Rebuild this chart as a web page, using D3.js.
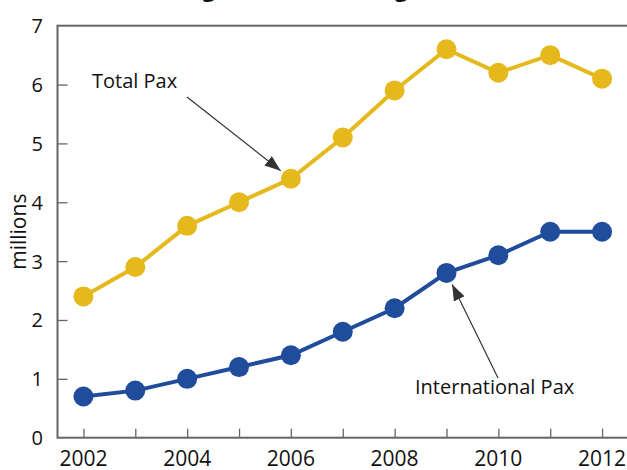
<!DOCTYPE html>
<html>
<head>
<meta charset="utf-8">
<script src="https://cdn.jsdelivr.net/npm/d3@7/dist/d3.min.js"></script>
<style>
  html, body { margin: 0; padding: 0; background: #fff; }
  svg { display: block; font-family: "Open Sans", "Noto Sans", sans-serif; }
</style>
</head>
<body>
<svg id="chart" width="627" height="470"></svg>
<script>
// Passenger numbers, millions
const years = [2002, 2003, 2004, 2005, 2006, 2007, 2008, 2009, 2010, 2011, 2012];
const totalPax = [2.4, 2.9, 3.6, 4.0, 4.4, 5.1, 5.9, 6.6, 6.2, 6.5, 6.1];
const intlPax = [0.7, 0.8, 1.0, 1.2, 1.4, 1.8, 2.2, 2.8, 3.1, 3.5, 3.5];
const yTicks = [0, 1, 2, 3, 4, 5, 6, 7];
const xTickLabels = [2002, 2004, 2006, 2008, 2010, 2012];

const svg = d3.select("#chart");
const margin = { left: 57.5, right: -1, top: 25.7, bottom: 32.3 };
const W = 627, H = 470;

const x = d3.scaleLinear()
  .domain([2001.5, 2012.5])
  .range([margin.left, W - margin.right]);
const y = d3.scaleLinear()
  .domain([0, 7])
  .range([H - margin.bottom, margin.top]);

const axisColor = "#666";
const textColor = "#111";

// Title (sits mostly above the page edge)
svg.append("text")
  .attr("x", 126).attr("y", -3)
  .attr("font-size", 22).attr("font-weight", "bold")
  .attr("fill", textColor)
  .text("Passenger numbers and growth");

// Plot frame
svg.append("rect")
  .attr("x", x.range()[0]).attr("y", y.range()[1])
  .attr("width", x.range()[1] - x.range()[0])
  .attr("height", y.range()[0] - y.range()[1])
  .attr("fill", "none").attr("stroke", axisColor).attr("stroke-width", 2);

// Y axis: inward ticks
const yAxis = svg.append("g")
  .attr("transform", `translate(${x.range()[0]},0)`)
  .call(d3.axisRight(y).tickValues(yTicks).tickSize(10).tickFormat(""));
yAxis.select(".domain").remove();
yAxis.selectAll("line").attr("stroke", axisColor).attr("stroke-width", 1.3);
yAxis.selectAll(".tick").filter(d => d === 0 || d === 7).select("line").remove();

svg.append("g").selectAll("text")
  .data(yTicks).join("text")
  .attr("x", 43).attr("y", d => y(d))
  .attr("text-anchor", "end").attr("dominant-baseline", "central")
  .attr("font-size", 20).attr("fill", textColor)
  .text(d => d);

// X axis: inward ticks at every year
const xAxis = svg.append("g")
  .attr("transform", `translate(0,${y.range()[0]})`)
  .call(d3.axisTop(x).tickValues(years).tickSize(9).tickFormat(""));
xAxis.select(".domain").remove();
xAxis.selectAll("line").attr("stroke", axisColor).attr("stroke-width", 1.3);

svg.append("g").selectAll("text")
  .data(xTickLabels).join("text")
  .attr("x", d => x(d)).attr("y", 466)
  .attr("text-anchor", "middle")
  .attr("font-size", 21).attr("fill", textColor)
  .text(d => d);

// Y axis title
svg.append("text")
  .attr("transform", `translate(18,${(y.range()[0] + y.range()[1]) / 2}) rotate(-90)`)
  .attr("text-anchor", "middle").attr("dominant-baseline", "central")
  .attr("font-size", 21).attr("fill", textColor)
  .text("millions");

// Series
const series = [
  { name: "Total Pax", values: totalPax, color: "#E5B81C" },
  { name: "International Pax", values: intlPax, color: "#1F4C9B" }
];

const line = d3.line().x((d, i) => x(years[i])).y(d => y(d));

series.forEach(s => {
  const g = svg.append("g");
  g.append("path")
    .datum(s.values)
    .attr("d", line)
    .attr("fill", "none").attr("stroke", s.color).attr("stroke-width", 4);
  g.selectAll("circle")
    .data(s.values).join("circle")
    .attr("cx", (d, i) => x(years[i]))
    .attr("cy", d => y(d))
    .attr("r", 10)
    .attr("fill", s.color);
});

// Callout arrows
const defs = svg.append("defs");
defs.append("marker")
  .attr("id", "arrow")
  .attr("viewBox", "0 0 16 12")
  .attr("refX", 16).attr("refY", 6)
  .attr("markerWidth", 16).attr("markerHeight", 12)
  .attr("markerUnits", "userSpaceOnUse")
  .attr("orient", "auto")
  .append("path")
  .attr("d", "M0,0 L16,6 L0,12 Z")
  .attr("fill", "#333");

function callout(label, tx, ty, fromX, fromY, year, value) {
  svg.append("text")
    .attr("x", tx).attr("y", ty)
    .attr("font-size", 20).attr("fill", textColor)
    .text(label);
  const toX = x(year), toY = y(value);
  const dx = toX - fromX, dy = toY - fromY;
  const len = Math.hypot(dx, dy);
  const gap = 13;
  svg.append("line")
    .attr("x1", fromX).attr("y1", fromY)
    .attr("x2", toX - dx / len * gap).attr("y2", toY - dy / len * gap)
    .attr("stroke", "#333").attr("stroke-width", 1.2)
    .attr("marker-end", "url(#arrow)");
}

callout("Total Pax", 92, 88, 187, 97, 2006, totalPax[4]);
callout("International Pax", 415, 394, 498, 378, 2009, intlPax[7]);
</script>
</body>
</html>
